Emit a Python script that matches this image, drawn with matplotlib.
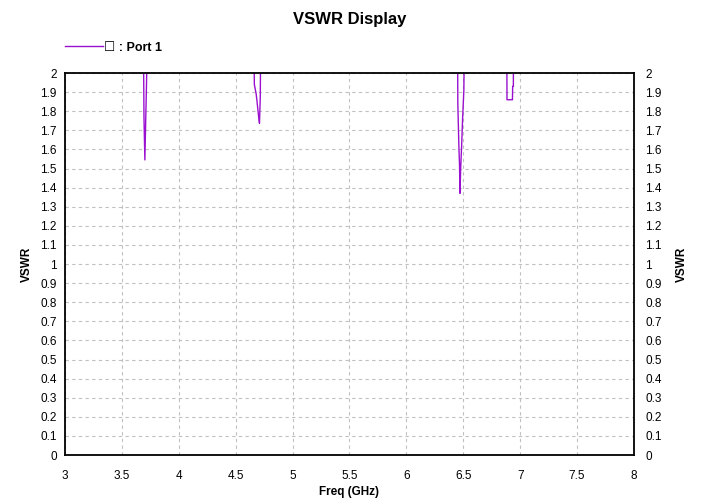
import numpy as np
import matplotlib.pyplot as plt
from matplotlib.ticker import MultipleLocator, FormatStrFormatter

plt.rcParams['font.family'] = ['Liberation Sans', 'DejaVu Sans']

# sweep points (values above 2 run off the top)
freq = [3.00, 3.688, 3.694, 3.702, 3.710, 3.716, 3.727,
        4.20, 4.660, 4.664, 4.680, 4.686, 4.700, 4.709, 4.716, 4.722,
        5.60, 6.449, 6.452, 6.462, 6.467, 6.471, 6.477, 6.485, 6.494, 6.505, 6.512,
        6.70, 6.882, 6.884, 6.932, 6.934, 6.940, 6.942, 8.00]
vswr = [6.0, 2.3, 1.77, 1.545, 1.77, 1.93, 2.3,
        6.0, 2.2, 1.94, 1.89, 1.86, 1.78, 1.737, 1.87, 2.3,
        6.0, 2.3, 1.84, 1.60, 1.52, 1.37, 1.50, 1.61, 1.76, 1.91, 2.3,
        6.0, 2.3, 1.86, 1.86, 1.93, 1.93, 2.3, 6.0]

fig = plt.figure(figsize=(7.01, 4.98), dpi=100)
ax = fig.add_axes([0.0927, 0.0863, 0.8117, 0.7671])

ax.plot(freq, vswr, color='#9b10d0', lw=1.0, label='\u2610 : Port 1')

ax.set_xlim(3, 8)
ax.set_ylim(0, 2)
ax.xaxis.set_major_locator(MultipleLocator(0.5))
ax.yaxis.set_major_locator(MultipleLocator(0.1))
ax.xaxis.set_major_formatter(FormatStrFormatter('%g'))
ax.yaxis.set_major_formatter(FormatStrFormatter('%g'))
ax.grid(True, color='#c0c0c0', ls=(0, (3, 3)), lw=0.8)
ax.tick_params(axis='both', length=0, labelsize=8.5)
ax.tick_params(axis='x', pad=11)
ax.tick_params(axis='y', pad=6)
for s in ax.spines.values():
    s.set_linewidth(1.3)

ax.set_xlabel('Freq (GHz)', fontsize=8.5, fontweight='bold', labelpad=3)
ax.set_ylabel('VSWR', fontsize=8.5, fontweight='bold', labelpad=5)

ax2 = ax.twinx()
ax2.set_ylim(0, 2)
ax2.yaxis.set_major_locator(MultipleLocator(0.1))
ax2.yaxis.set_major_formatter(FormatStrFormatter('%g'))
ax2.tick_params(axis='y', length=0, labelsize=8.5, pad=8)
ax2.set_ylabel('VSWR', fontsize=8.5, fontweight='bold', labelpad=10)
for s in ax2.spines.values():
    s.set_visible(False)

ax.set_title('VSWR Display', fontsize=12, fontweight='bold', pad=35)
ax.legend(loc='lower left', bbox_to_anchor=(-0.008, 1.037), frameon=False,
          handlelength=3.0, handletextpad=0.1, borderaxespad=0,
          prop={'size': 9, 'weight': 'bold'})

fig.savefig('out.png', dpi=100)
